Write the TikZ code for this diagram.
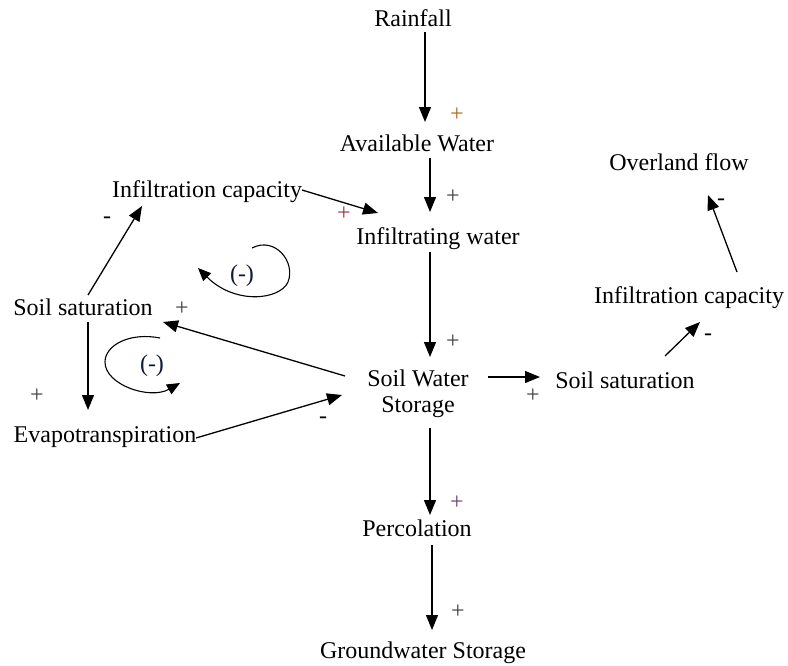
\documentclass[tikz,border=0pt]{standalone}
\usepackage{fontspec}
\setmainfont{Liberation Serif}
\usetikzlibrary{arrows.meta,calc}
\definecolor{plusorange}{HTML}{B06A20}
\definecolor{plusred}{HTML}{A03848}
\definecolor{pluspurple}{HTML}{704070}
\definecolor{plusgrey}{HTML}{404040}
\definecolor{loopnavy}{HTML}{101838}
\tikzset{
  basefont/.style={inner xsep=0pt, inner ysep=0pt, font=\fontsize{24}{26}\selectfont},
  lbl/.style={basefont, text height=16.8pt, text depth=4.8pt},
  twoline/.style={basefont, align=center},
  sgn/.style={lbl},
  arr/.style={line width=1.3pt, -{Triangle[length=15pt,width=12pt]}},
  looparr/.style={line width=1.1pt, -{Triangle[length=13pt,width=11pt]}}
}
\begin{document}
\begin{tikzpicture}[x=1pt,y=-1pt]
\useasboundingbox (0,0) rectangle (788,665);
% main nodes
\node[lbl] (rain) at (413,20) {Rainfall};
\node[lbl] (avail) at (417,145) {Available Water};
\node[lbl] (infil) at (438,238) {Infiltrating water};
\node[lbl] (infcapL) at (207,191) {Infiltration capacity};
\node[twoline] (sws) at (418,394) {Soil Water\\Storage};
\node[lbl] (satR) at (625,382) {Soil saturation};
\node[lbl] (infcapR) at (689,297) {Infiltration capacity};
\node[lbl] (over) at (679,164) {Overland flow};
\node[lbl] (perc) at (417,530) {Percolation};
\node[lbl] (gw) at (423,652) {Groundwater Storage};
\node[lbl] (satL) at (83,309) {Soil saturation};
\node[lbl] (evap) at (105,436) {Evapotranspiration};
% connectors
\draw[arr] ($(rain)+(12,12)$) -- ($(avail)+(8,-23)$);
\draw[arr] ($(avail)+(13,13)$) -- ($(infil)+(-8,-26)$);
\draw[arr] ($(infcapL)+(95,-1)$) -- ($(infil)+(-60,-25)$);
\draw[arr] ($(infil)+(-8,14)$) -- ($(sws)+(12,-37)$);
\draw[arr] ($(sws)+(70,-17)$) -- ($(satR)+(-85,-5)$);
\draw[arr] ($(satR)+(40,-26)$) -- ($(infcapR)+(11,25)$);
\draw[arr] ($(infcapR)+(48,-25)$) -- ($(over)+(29,31)$);
\draw[arr] ($(sws)+(12,34)$) -- ($(perc)+(13,-15)$);
\draw[arr] ($(perc)+(15,15)$) -- ($(gw)+(9,-22)$);
\draw[arr] ($(sws)+(-73,-18)$) -- ($(satL)+(80,13)$);
\draw[arr] ($(satL)+(5,-14)$) -- ($(infcapL)+(-65,15)$);
\draw[arr] ($(satL)+(5,13)$) -- ($(evap)+(-17,-26)$);
\draw[arr] ($(evap)+(91,2)$) -- ($(sws)+(-76,1)$);
% feedback loops
\node[lbl, text=loopnavy] (loopA) at (242,275) {(-)};
\node[lbl, text=loopnavy] (loopB) at (152,365) {(-)};
\draw[looparr] ($(loopA)+(10,-27)$) .. controls ($(loopA)+(33,-39)$) and ($(loopA)+(54,-13)$) .. ($(loopA)+(46,7)$)
  .. controls ($(loopA)+(38,25)$) and ($(loopA)+(-7,30)$) .. ($(loopA)+(-44,-7)$);
\draw[looparr] ($(loopB)+(8,-27)$) .. controls ($(loopB)+(-22,-33)$) and ($(loopB)+(-47,-20)$) .. ($(loopB)+(-47,-3)$)
  .. controls ($(loopB)+(-47,20)$) and ($(loopB)+(-2,35)$) .. ($(loopB)+(28,18)$);
% polarity signs
\node[sgn, text=plusorange] (s1) at (457,115) {+};
\node[sgn, text=plusgrey] (s2) at (453,197) {+};
\node[sgn, text=plusred] (s3) at (344,214) {+};
\node[sgn, text=plusgrey] (s4) at (453,342) {+};
\node[sgn, text=plusgrey] (s5) at (533,396) {+};
\node[sgn] (s6) at (708,334) {-};
\node[sgn] (s7) at (721,199) {-};
\node[sgn, text=pluspurple] (s8) at (457,503) {+};
\node[sgn, text=plusgrey] (s9) at (458,612) {+};
\node[sgn, text=plusgrey] (s10) at (182,309) {+};
\node[sgn] (s11) at (107,217) {-};
\node[sgn, text=plusgrey] (s12) at (37,396) {+};
\node[sgn] (s13) at (323,417) {-};
\end{tikzpicture}
\end{document}
